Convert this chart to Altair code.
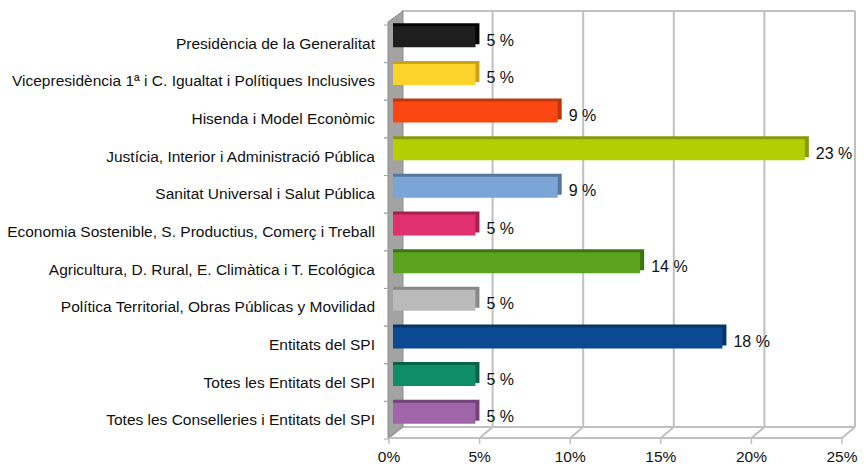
import altair as alt
import pandas as pd

categories = [
    "Presidència de la Generalitat",
    "Vicepresidència 1ª i C. Igualtat i Polítiques Inclusives",
    "Hisenda i Model Econòmic",
    "Justícia, Interior i Administració Pública",
    "Sanitat Universal i Salut Pública",
    "Economia Sostenible, S. Productius, Comerç i Treball",
    "Agricultura, D. Rural, E. Climàtica i T. Ecológica",
    "Política Territorial, Obras Públicas y Movilidad",
    "Entitats del SPI",
    "Totes les Entitats del SPI",
    "Totes les Conselleries i Entitats del SPI",
]
values = [4.55, 4.55, 9.09, 22.73, 9.09, 4.55, 13.64, 4.55, 18.18, 4.55, 4.55]
face_colors = ["#1e1e1e", "#fcd32a", "#fb4813", "#b3cf04", "#7aa5d6", "#e0306e",
               "#5ba21f", "#bababa", "#0b4a93", "#0f8d68", "#9f65a8"]
side_colors = ["#050505", "#c9a414", "#c0360b", "#86990a", "#55789f", "#a5204f",
               "#3e7414", "#888888", "#063468", "#076247", "#734578"]
tick_values = [0, 5, 10, 15, 20, 25]
tick_labels = ["0%", "5%", "10%", "15%", "20%", "25%"]

FONT = "Liberation Sans"
FS = 15.5
GRID = "#C0C0C0"
BACK = 9
FRONT = -4
H = 414
STEP = H / len(categories)

bars = pd.DataFrame({
    "cat": categories,
    "v": values,
    "label": [f"{int(v + 0.5)} %" for v in values],
    "side": side_colors,
})
ticks = pd.DataFrame({"t": tick_values, "lab": tick_labels})
ends = pd.DataFrame({"a": [0], "b": [25]})
wall = pd.DataFrame({"wx": [-5, 10], "wy": [4, -7], "wy2": [420, 409]})

xs = alt.Scale(domain=[0, 25], nice=False, zero=True)
ys = alt.Scale(domain=categories, paddingInner=0.42, paddingOuter=0.21)

grid = alt.Chart(ticks).mark_rule(color=GRID, strokeWidth=2, xOffset=BACK).encode(
    x=alt.X("t:Q", scale=xs, axis=None), y=alt.value(-7), y2=alt.value(409))
top_line = alt.Chart(ends).mark_rule(color=GRID, strokeWidth=2, xOffset=BACK, x2Offset=BACK).encode(
    x=alt.X("a:Q", scale=xs, axis=None), x2="b:Q", y=alt.value(-7))
back_floor = alt.Chart(ends).mark_rule(color=GRID, strokeWidth=2, xOffset=BACK, x2Offset=BACK).encode(
    x=alt.X("a:Q", scale=xs, axis=None), x2="b:Q", y=alt.value(409))
front_floor = alt.Chart(ends).mark_rule(color=GRID, strokeWidth=2, xOffset=FRONT, x2Offset=FRONT).encode(
    x=alt.X("a:Q", scale=xs, axis=None), x2="b:Q", y=alt.value(420))
diag = alt.Chart(ticks).mark_rule(color=GRID, strokeWidth=2, xOffset=BACK, x2Offset=FRONT).encode(
    x=alt.X("t:Q", scale=xs, axis=None), x2="t:Q", y=alt.value(409), y2=alt.value(420))
xticks = alt.Chart(ticks).mark_rule(color=GRID, strokeWidth=1.5, xOffset=FRONT).encode(
    x=alt.X("t:Q", scale=xs, axis=None), y=alt.value(420), y2=alt.value(426))
xlabels = alt.Chart(ticks).mark_text(font=FONT, fontSize=FS, color="#111111", dx=FRONT,
                                     align="center", baseline="alphabetic").encode(
    x=alt.X("t:Q", scale=xs, axis=None), y=alt.value(444), text="lab:N")

wall_area = alt.Chart(wall).mark_area(color="#a3a3a3", stroke="#8a8a8a", strokeWidth=1).encode(
    x=alt.X("wx:Q", scale=None, axis=None), y=alt.Y("wy:Q", scale=None, axis=None), y2="wy2:Q")

ycat = alt.Y("cat:N", scale=ys, sort=categories, axis=None)

side = alt.Chart(bars).mark_bar(size=21, xOffset=4, yOffset=-3).encode(
    x=alt.X("v:Q", scale=xs, axis=None), x2=alt.datum(0), y=ycat,
    color=alt.Color("side:N", scale=None))

face = alt.Chart(bars).mark_bar(size=21).encode(
    x=alt.X("v:Q", scale=xs, axis=None), x2=alt.datum(0), y=ycat,
    color=alt.Color("cat:N", scale=alt.Scale(domain=categories, range=face_colors), legend=None))

vlabels = alt.Chart(bars).mark_text(font=FONT, fontSize=16, color="#111111", align="left",
                                    baseline="middle", dx=11, dy=4).encode(
    x=alt.X("v:Q", scale=xs, axis=None), y=ycat, text="label:N")

ylabels = alt.Chart(bars).mark_text(font=FONT, fontSize=FS, color="#111111", align="right",
                                    baseline="middle", dy=7).encode(
    x=alt.value(-18), y=ycat, text="cat:N")

yticks_top = alt.Chart(bars).mark_rule(color="#A6A6A6", strokeWidth=1,
                                        yOffset=7 - STEP / 2).encode(
    x=alt.value(-9), x2=alt.value(-4), y=ycat)
yticks_bot = alt.Chart(bars).mark_rule(color="#A6A6A6", strokeWidth=1,
                                        yOffset=7 + STEP / 2).encode(
    x=alt.value(-9), x2=alt.value(-4), y=ycat)

back_layer = alt.layer(grid, top_line, back_floor, diag, front_floor, xticks)
front_layer = alt.layer(yticks_top, yticks_bot, side, face, vlabels, ylabels, xlabels)

chart = alt.layer(
    back_layer, wall_area, front_layer
).resolve_scale(
    x="independent", y="independent"
).properties(
    width=453, height=H, autosize="none",
    padding={"left": 385, "top": 10, "right": 12, "bottom": 33},
    background="white",
).configure_view(stroke=None)

chart.save("out.html", embed_options={"renderer": "svg", "actions": False})
